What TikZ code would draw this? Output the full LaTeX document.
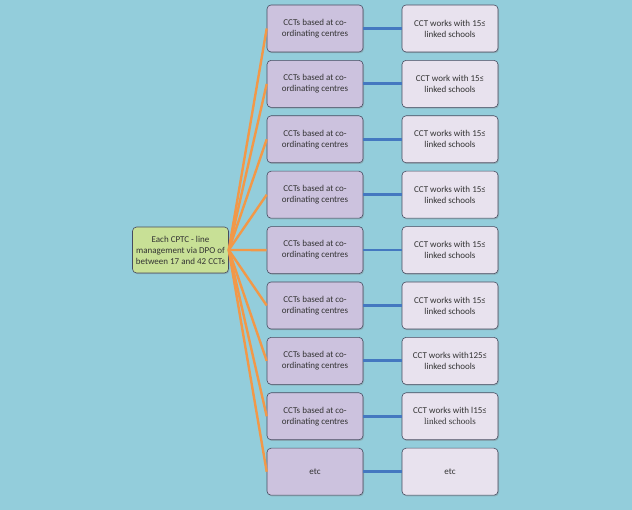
\documentclass[tikz,border=0pt]{standalone}
\usepackage{fontspec}
\setmainfont{Carlito}
\newfontfamily\serifalt{Liberation Serif}
\usetikzlibrary{shadows}
\definecolor{bgblue}{RGB}{147, 205, 219}
\definecolor{rootgreen}{RGB}{200, 224, 150}
\definecolor{centrelilac}{RGB}{204, 194, 222}
\definecolor{schoollilac}{RGB}{232, 226, 238}
\definecolor{boxedge}{RGB}{70, 75, 95}
\definecolor{fanorange}{RGB}{242, 152, 72}
\definecolor{linkblue}{RGB}{68, 120, 192}

\begin{document}
\begin{tikzpicture}[x=1pt, y=1pt,
        box/.style={draw=boxedge, line width=0.6pt, rounded corners=4pt, minimum width=96pt, minimum height=47pt, align=center, font=\fontsize{9}{11}\selectfont, text=black!80, drop shadow={opacity=0.35, shadow xshift=1pt, shadow yshift=-1.2pt}},
        root/.style={box, fill=rootgreen, minimum width=95pt, minimum height=46pt},
        centre/.style={box, fill=centrelilac},
        school/.style={box, fill=schoollilac},
        fan/.style={fanorange, line width=2.4pt},
        link/.style={linkblue, line width=2.8pt}
      ]
        \fill[bgblue] (0,0) rectangle (632,510);
        \useasboundingbox (0,0) rectangle (632,510);

        \node[root] (cptc) at (180.5,260) {Each CPTC - line\\management via DPO of\\between 17 and 42 CCTs};

        \node[centre] (c1) at (315,481.5) {CCTs based at co-\\ordinating centres};
        \node[centre] (c2) at (315,426.1) {CCTs based at co-\\ordinating centres};
        \node[centre] (c3) at (315,370.7) {CCTs based at co-\\ordinating centres};
        \node[centre] (c4) at (315,315.3) {CCTs based at co-\\ordinating centres};
        \node[centre] (c5) at (315,259.9) {CCTs based at co-\\ordinating centres};
        \node[centre] (c6) at (315,204.5) {CCTs based at co-\\ordinating centres};
        \node[centre] (c7) at (315,149.1) {CCTs based at co-\\ordinating centres};
        \node[centre] (c8) at (315,93.7) {CCTs based at co-\\ordinating centres};
        \node[centre] (c9) at (315,38.3) {etc};

        \node[school] (s1) at (450,481.5) {CCT works with 15≤\\linked schools};
        \node[school] (s2) at (450,426.1) {CCT work with 15≤\\linked schools};
        \node[school] (s3) at (450,370.7) {CCT works with 15≤\\linked schools};
        \node[school] (s4) at (450,315.3) {CCT works with 15≤\\linked schools};
        \node[school] (s5) at (450,259.9) {CCT works with 15≤\\linked schools};
        \node[school] (s6) at (450,204.5) {CCT works with 15≤\\linked schools};
        \node[school] (s7) at (450,149.1) {CCT works with125≤\\linked schools};
        \node[school] (s8) at (450,93.7) {CCT works with l15≤\\{\serifalt linked schools}};
        \node[school] (s9) at (450,38.3) {etc};

        % fan out from the CPTC box
        \draw[fan] (cptc.east) -- (c1.west);
        \draw[fan] (cptc.east) -- (c2.west);
        \draw[fan] (cptc.east) -- (c3.west);
        \draw[fan] (cptc.east) -- (c4.west);
        \draw[fan] (cptc.east) -- (c5.west);
        \draw[fan] (cptc.east) -- (c6.west);
        \draw[fan] (cptc.east) -- (c7.west);
        \draw[fan] (cptc.east) -- (c8.west);
        \draw[fan] (cptc.east) -- (c9.west);

        \draw[link] (c1) -- (s1);
        \draw[link] (c2) -- (s2);
        \draw[link] (c3) -- (s3);
        \draw[link] (c4) -- (s4);
        \draw[link] (c5) -- (s5);
        \draw[link] (c6) -- (s6);
        \draw[link] (c7) -- (s7);
        \draw[link] (c8) -- (s8);
        \draw[link] (c9) -- (s9);
      \end{tikzpicture}
\end{document}
